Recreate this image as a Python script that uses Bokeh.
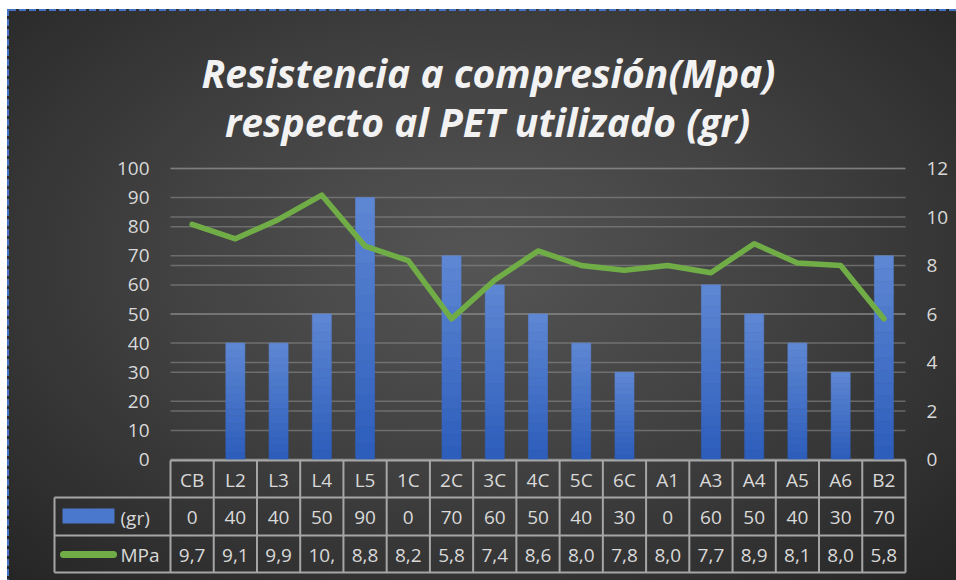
from bokeh.plotting import figure
from bokeh.models import Range1d, LinearAxis, FixedTicker
from bokeh.embed import file_html
from bokeh.resources import INLINE
from bokeh.core.properties import value

# ---------------- data ----------------
categories = ["CB", "L2", "L3", "L4", "L5", "1C", "2C", "3C", "4C", "5C", "6C",
              "A1", "A3", "A4", "A5", "A6", "B2"]
pet_gr = [0, 40, 40, 50, 90, 0, 70, 60, 50, 40, 30, 0, 60, 50, 40, 30, 70]
mpa = [9.7, 9.1, 9.9, 10.9, 8.8, 8.2, 5.8, 7.4, 8.6, 8.0, 7.8, 8.0, 7.7, 8.9, 8.1, 8.0, 5.8]
left_ticks = [0, 10, 20, 30, 40, 50, 60, 70, 80, 90, 100]
right_ticks = [0, 2, 4, 6, 8, 10, 12]
title_lines = ["Resistencia a compresión(Mpa)", "respecto al PET utilizado (gr)"]
series_names = ["(gr)", "MPa"]

# ---------------- style / layout constants ----------------
FONT = "Open Sans"
TXT = "#d9d9d9"
GRID = "#8a8a8a"
TABLE_LINE = "#a6a6a6"
BAR_TOP = (0x5d, 0x86, 0xd3)
BAR_BOT = (0x2e, 0x5e, 0xbc)
GREEN = "#70ad47"

W, H = 956, 580
n = len(categories)
PLOT_L, PLOT_R = 170, 905          # pixel extent of the category area
Y0_PX, PX_PER_UNIT = 459, 2.91     # pixel of value 0, pixels per left-axis unit
CW = (PLOT_R - PLOT_L) / n
MPA_SCALE = right_ticks[-1] / left_ticks[-1]


def px2x(px):
    return (px - PLOT_L) / CW


def px2y(py):
    return (Y0_PX - py) / PX_PER_UNIT


BACKGROUND = ", ".join([
    "repeating-linear-gradient(90deg, #4472c4 0 7px, transparent 7px 10px) 9px 9px / 100% 2px no-repeat",
    "repeating-linear-gradient(180deg, #4472c4 0 7px, transparent 7px 10px) 7px 9px / 2px 100% no-repeat",
    "linear-gradient(#ffffff, #ffffff) 0 0 / 100% 9px no-repeat",
    "linear-gradient(#ffffff, #ffffff) 0 0 / 7px 100% no-repeat",
    "radial-gradient(ellipse 70% 75% at 50% 45%, #555555 0%, #424242 45%, #262626 100%)",
])

p = figure(width=W, height=H, output_backend="svg", toolbar_location=None,
           x_range=Range1d(px2x(0), px2x(W)), y_range=Range1d(px2y(H), px2y(0)),
           x_axis_location=None, y_axis_location=None, min_border=0,
           border_fill_color=None, background_fill_color=None, outline_line_color=None,
           styles={"background": BACKGROUND})
p.extra_y_ranges = {"mpa": Range1d(px2y(H) * MPA_SCALE, px2y(0) * MPA_SCALE)}
p.xgrid.visible = False
p.ygrid.visible = False

# axes drawn at the edges of the category area
lax = LinearAxis(ticker=FixedTicker(ticks=left_ticks), fixed_location=0)
rax = LinearAxis(ticker=FixedTicker(ticks=right_ticks), y_range_name="mpa", fixed_location=n)
p.add_layout(lax, "left")
p.add_layout(rax, "right")
for a in (lax, rax):
    a.axis_line_color = None
    a.major_tick_line_color = None
    a.minor_tick_line_color = None
    a.major_tick_out = 0
    a.major_tick_in = 0
    a.major_label_text_font = FONT
    a.major_label_text_font_size = "19px"
    a.major_label_text_color = TXT
    a.major_label_standoff = 21

# gridlines for both value axes
gy = left_ticks + [t / MPA_SCALE for t in right_ticks]
p.segment(x0=[0] * len(gy), x1=[n] * len(gy), y0=gy, y1=gy,
          line_color=GRID, line_alpha=0.6, line_width=1.5)

# bars with vertical gradient built from bands
NB = 16
bx, bb, bt, bc = [], [], [], []
for i, v in enumerate(pet_gr):
    if v <= 0:
        continue
    for k in range(NB):
        f = k / (NB - 1)
        rgb = tuple(round(b + (t - b) * f) for b, t in zip(BAR_BOT, BAR_TOP))
        bx.append(i + 0.5)
        bb.append(v * k / NB)
        bt.append(v * (k + 1) / NB)
        bc.append("#%02x%02x%02x" % rgb)
p.vbar(x=bx, bottom=bb, top=bt, width=0.44, fill_color=bc, line_color=bc, line_width=0.6)

cx = [i + 0.5 for i in range(n)]
p.line(x=cx, y=mpa, y_range_name="mpa", line_color=GREEN, line_width=5.5,
       line_join="round", line_cap="round")

# title
p.text(x=[px2x(488), px2x(487)], y=[px2y(72), px2y(121)], text=title_lines,
       text_font=value(FONT), text_font_style="bold italic", text_font_size="39px",
       text_color="#f2f2f2", text_align="center", text_baseline="alphabetic")

# ---------------- data table ----------------
rows_px = [460, 497, 535, 572]
leg_left = px2x(54)
hx0 = [0, leg_left, leg_left, leg_left]
hx1 = [n] * 4
hy = [px2y(r) for r in rows_px]
p.segment(x0=hx0, y0=hy, x1=hx1, y1=hy, line_color=TABLE_LINE, line_width=2)
vx = list(range(n + 1)) + [leg_left]
vy0 = [px2y(rows_px[0])] * (n + 1) + [px2y(rows_px[1])]
vy1 = [px2y(rows_px[3])] * (n + 2)
p.segment(x0=vx, y0=vy0, x1=vx, y1=vy1, line_color=TABLE_LINE, line_width=2)

gr_txt = [str(v) for v in pet_gr]
mpa_txt = [("%.1f" % v).replace(".", ",")[:3] for v in mpa]
for r, texts in enumerate([categories, gr_txt, mpa_txt]):
    yc = px2y((rows_px[r] + rows_px[r + 1]) / 2 + 1)
    p.text(x=cx, y=[yc] * n, text=texts, text_font=value(FONT), text_font_size="19px",
           text_color=TXT, text_align="center", text_baseline="middle")

# legend keys
p.quad(left=[px2x(62)], right=[px2x(114)], top=[px2y(508)], bottom=[px2y(523)],
       fill_color="#4a78cc", line_color=None)
p.segment(x0=[px2x(63)], x1=[px2x(113)], y0=[px2y(554)], y1=[px2y(554)],
          line_color=GREEN, line_width=7, line_cap="round")
p.text(x=[px2x(120)] * 2, y=[px2y(517), px2y(554.5)], text=series_names, text_font=value(FONT),
       text_font_size="19px", text_color=TXT, text_align="left", text_baseline="middle")

open("out.html", "w").write(file_html(p, INLINE))
